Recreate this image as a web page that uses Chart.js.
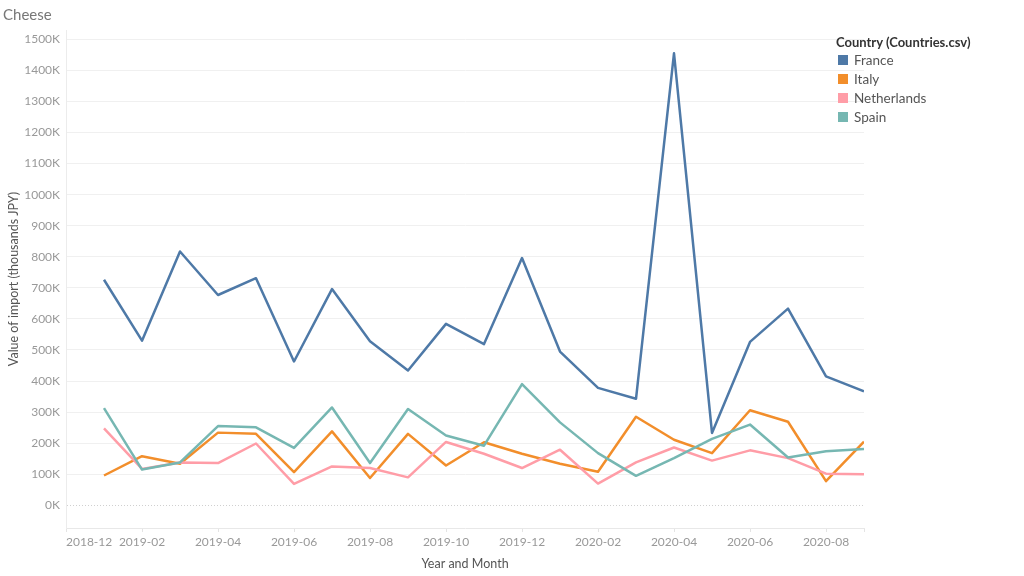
<!DOCTYPE html>
<html><head><meta charset="utf-8">
<script src="https://cdn.jsdelivr.net/npm/chart.js@4"></script>
<style>
html,body{margin:0;padding:0;background:#fff;}
#wrap{position:relative;width:1024px;height:576px;font-family:Lato,"Open Sans",sans-serif;overflow:hidden;}
#c{position:absolute;left:0;top:0;}
#title{position:absolute;left:3px;top:5px;font-size:15px;color:#777;}
#legend{position:absolute;left:836px;top:34px;}
#legend .lt{font-weight:bold;font-size:13px;color:#333;margin-bottom:0px;white-space:nowrap;line-height:16px;}
#legend .it{display:flex;align-items:center;height:19px;font-size:13.5px;color:#555;}
#legend .sw{width:10px;height:10px;margin:0 6px 0 2px;}
</style></head>
<body><div id="wrap"><canvas id="c" width="1024" height="576"></canvas><div id="title">Cheese</div><div id="legend"></div></div>
<script>
const chartTitle = 'Cheese';
const legendTitle = 'Country (Countries.csv)';
const yAxisTitle = 'Value of import (thousands JPY)';
const xAxisTitle = 'Year and Month';
const axisMonths = ['2018-12','2019-01','2019-02','2019-03','2019-04','2019-05','2019-06','2019-07','2019-08','2019-09','2019-10','2019-11','2019-12','2020-01','2020-02','2020-03','2020-04','2020-05','2020-06','2020-07','2020-08','2020-09'];
const dataMonths = ['2019-01','2019-02','2019-03','2019-04','2019-05','2019-06','2019-07','2019-08','2019-09','2019-10','2019-11','2019-12','2020-01','2020-02','2020-03','2020-04','2020-05','2020-06','2020-07','2020-08','2020-09'];
const xTickLabels = ['2018-12','2019-02','2019-04','2019-06','2019-08','2019-10','2019-12','2020-02','2020-04','2020-06','2020-08'];
const yTickValues = [0,100000,200000,300000,400000,500000,600000,700000,800000,900000,1000000,1100000,1200000,1300000,1400000,1500000];
const countries = ['France','Italy','Netherlands','Spain'];
const colors = ['#4e79a7','#f28e2b','#ff9da7','#76b7b2'];
const france = [726000,530000,817000,677000,731000,463000,696000,528000,434000,584000,519000,796000,495000,378000,343000,1455000,233000,526000,633000,415000,367000];
const italy = [96000,158000,134000,234000,230000,107000,238000,88000,230000,128000,203000,166000,134000,108000,285000,211000,168000,306000,269000,78000,205000];
const netherlands = [248000,117000,138000,136000,199000,69000,125000,120000,90000,204000,166000,120000,179000,70000,138000,186000,144000,177000,152000,102000,100000];
const spain = [313000,115000,138000,255000,251000,185000,315000,136000,310000,225000,192000,390000,267000,168000,95000,152000,214000,260000,154000,174000,181000];
const seriesValues = [france, italy, netherlands, spain];

document.getElementById('title').textContent = chartTitle;
const lg = document.getElementById('legend');
lg.innerHTML = '<div class="lt"></div>';
lg.querySelector('.lt').textContent = legendTitle;
countries.forEach((c,i)=>{
  const d=document.createElement('div');d.className='it';
  d.innerHTML='<span class="sw" style="background:'+colors[i]+'"></span><span></span>';
  d.lastChild.textContent=c; lg.appendChild(d);
});

const tickFont = {family:'Lato', size:12};
const datasets = countries.map((c,i)=>({
  label:c,
  data: seriesValues[i].map((v,j)=>({x: axisMonths.indexOf(dataMonths[j]), y: v})),
  borderColor: colors[i], backgroundColor: colors[i],
  borderWidth: 2.5, borderJoinStyle:'round', pointRadius: 0, tension: 0, order: 3 - i
}));

new Chart(document.getElementById('c'), {
  type:'line',
  data:{datasets},
  options:{
    responsive:false, animation:false,
    layout:{padding:{left:0,right:160,top:30,bottom:0}},
    plugins:{legend:{display:false}, tooltip:{enabled:false}},
    scales:{
      x:{
        type:'linear', min:0, max:axisMonths.length-1,
        afterBuildTicks: s => { s.ticks = xTickLabels.map(l=>({value: axisMonths.indexOf(l)})).concat([{value: axisMonths.length-1}]); },
        afterFit: s => { s.height = 48; },
        ticks:{
          autoSkip:false, maxRotation:0, align:'inner', padding:3, color:'#999', font:tickFont,
          callback: v => xTickLabels.includes(axisMonths[v]) ? axisMonths[v] : ''
        },
        grid:{drawOnChartArea:false, drawTicks:true, tickLength:4, tickColor:'#e4e4e4'},
        border:{color:'#e8e8e8'},
        title:{display:true, text:xAxisTitle, color:'#555', font:{family:'Lato', size:12.5}, padding:{top:0,bottom:5}}
      },
      y:{
        type:'linear', min:-73000, max:1530000,
        afterBuildTicks: s => { s.ticks = yTickValues.map(v=>({value:v})); },
        afterFit: s => { s.width = 66; },
        ticks:{padding:6, color:'#999', font:tickFont, callback: v => (v/1000)+'K'},
        grid:{drawTicks:false, color: ctx => ctx.tick && ctx.tick.value===0 ? '#d0d0d0' : '#f0f0f0', lineWidth:1},
        border:{color:'#ececec', dash: ctx => ctx.tick && ctx.tick.value===0 ? [1,2] : []},
        title:{display:true, text:yAxisTitle, color:'#555', font:{family:'Lato', size:12.5}, padding:{top:6,bottom:0}}
      }
    }
  }
});
</script></body></html>
